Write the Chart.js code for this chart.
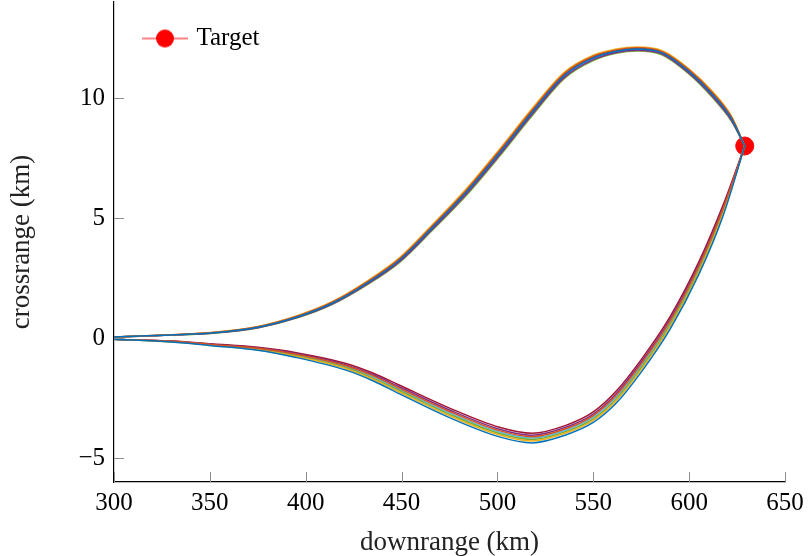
<!DOCTYPE html>
<html>
<head>
<meta charset="utf-8">
<script src="https://cdn.jsdelivr.net/npm/chart.js@4"></script>
<style>
  body { margin: 0; background: #fff; }
  #wrap { width: 809px; height: 556px; position: relative; }
</style>
</head>
<body>
<div id="wrap"><canvas id="traj"></canvas></div>
<script>
// downrange stations (km) for the two trajectory families
var xUpper = [300, 330, 352, 375, 397, 414, 432, 449, 466, 484, 501, 518, 535, 550, 562, 573, 586, 600, 612, 622, 629]
var xLower = [300, 330, 352, 375, 395, 421, 435, 449, 475, 501, 518, 536, 550, 562, 575, 590, 605, 618, 629]

// crossrange (km) per run, upper family
var run1Upper = [0.04, 0.13, 0.22, 0.45, 0.92, 1.46, 2.29, 3.25, 4.6, 6.1, 7.71, 9.4, 10.95, 11.67, 11.95, 12.04, 11.88, 11.1, 10.16, 9.15, 8.0]
var run2Upper = [0.04, 0.14, 0.23, 0.47, 0.95, 1.5, 2.34, 3.31, 4.67, 6.18, 7.8, 9.49, 11.03, 11.74, 12.0, 12.09, 11.93, 11.17, 10.24, 9.22, 8.0]
var run3Upper = [0.04, 0.14, 0.24, 0.48, 0.97, 1.52, 2.37, 3.35, 4.72, 6.24, 7.86, 9.55, 11.08, 11.78, 12.04, 12.12, 11.97, 11.21, 10.29, 9.26, 8.0]
var run4Upper = [0.04, 0.12, 0.21, 0.43, 0.89, 1.42, 2.24, 3.19, 4.53, 6.02, 7.62, 9.31, 10.87, 11.6, 11.9, 11.99, 11.83, 11.03, 10.08, 9.08, 8.0]
var run5Upper = [0.04, 0.12, 0.2, 0.42, 0.87, 1.4, 2.21, 3.15, 4.48, 5.96, 7.56, 9.25, 10.82, 11.56, 11.86, 11.96, 11.79, 10.99, 10.03, 9.04, 8.0]
var run6Upper = [0.04, 0.13, 0.21, 0.44, 0.9, 1.44, 2.27, 3.22, 4.56, 6.06, 7.66, 9.35, 10.91, 11.64, 11.92, 12.02, 11.85, 11.07, 10.12, 9.12, 8.0]
var run7Upper = [0.04, 0.13, 0.23, 0.46, 0.94, 1.48, 2.31, 3.28, 4.64, 6.14, 7.76, 9.45, 10.99, 11.7, 11.98, 12.06, 11.91, 11.13, 10.2, 9.18, 8.0]

// crossrange (km) per run, lower family
var run1Lower = [-0.05, -0.17, -0.33, -0.51, -0.81, -1.34, -1.78, -2.33, -3.32, -4.12, -4.37, -4.03, -3.52, -2.71, -1.42, 0.36, 2.64, 5.16, 8.0]
var run2Lower = [-0.05, -0.14, -0.28, -0.43, -0.68, -1.16, -1.57, -2.1, -3.06, -3.86, -4.11, -3.77, -3.23, -2.39, -1.08, 0.7, 2.98, 5.45, 8.0]
var run3Lower = [-0.05, -0.16, -0.31, -0.49, -0.77, -1.28, -1.72, -2.26, -3.24, -4.04, -4.29, -3.95, -3.43, -2.61, -1.32, 0.46, 2.74, 5.25, 8.0]
var run4Lower = [-0.05, -0.14, -0.27, -0.41, -0.65, -1.12, -1.52, -2.04, -3.0, -3.8, -4.05, -3.71, -3.17, -2.31, -1.0, 0.78, 3.06, 5.51, 8.0]
var run5Lower = [-0.05, -0.16, -0.3, -0.47, -0.74, -1.24, -1.67, -2.2, -3.18, -3.98, -4.23, -3.89, -3.37, -2.54, -1.24, 0.54, 2.82, 5.31, 8.0]
var run6Lower = [-0.05, -0.15, -0.29, -0.45, -0.71, -1.2, -1.62, -2.15, -3.12, -3.92, -4.17, -3.83, -3.3, -2.46, -1.16, 0.62, 2.9, 5.38, 8.0]
var run7Lower = [-0.05, -0.13, -0.25, -0.39, -0.61, -1.06, -1.46, -1.97, -2.92, -3.72, -3.97, -3.63, -3.08, -2.21, -0.9, 0.88, 3.16, 5.6, 8.0]

var targetX = [629]
var targetY = [8]

var xTicks = [300, 350, 400, 450, 500, 550, 600, 650]
var yTicks = [-5, 0, 5, 10]

var runColors = ['#0072BD', '#D95319', '#EDB120', '#7E2F8E', '#77AC30', '#4DBEEE', '#A2142F']
var upperRuns = [run1Upper, run2Upper, run3Upper, run4Upper, run5Upper, run6Upper, run7Upper]
var lowerRuns = [run1Lower, run2Lower, run3Lower, run4Lower, run5Lower, run6Lower, run7Lower]

var serif = '"Liberation Serif", "Times New Roman", serif'

function toPoints(xs, ys) {
    var pts = []
    for (var i = 0; i < xs.length; i++) pts.push({x: xs[i], y: ys[i]})
    return pts
}

var datasets = []
for (var r = 0; r < runColors.length; r++) {
    datasets.push({
        label: 'run ' + (r + 1) + ' upper',
        data: toPoints(xUpper, upperRuns[r]),
        borderColor: runColors[r],
        borderWidth: 1.5,
        pointRadius: 0,
        cubicInterpolationMode: 'monotone',
        fill: false
    })
    datasets.push({
        label: 'run ' + (r + 1) + ' lower',
        data: toPoints(xLower, lowerRuns[r]),
        borderColor: runColors[r],
        borderWidth: 1.5,
        pointRadius: 0,
        cubicInterpolationMode: 'monotone',
        fill: false
    })
}
datasets.push({
    label: 'Target',
    data: toPoints(targetX, targetY),
    showLine: false,
    borderColor: '#ff0000',
    backgroundColor: '#ff0000',
    pointRadius: 9,
    pointHoverRadius: 9
})

// legend glyph: short line with a dot on it (6px blank margin on the left)
var legendMark = document.createElement('canvas')
legendMark.width = 52
legendMark.height = 20
var lg = legendMark.getContext('2d')
lg.strokeStyle = '#ff5a5a'
lg.lineWidth = 1.5
lg.beginPath()
lg.moveTo(6, 10)
lg.lineTo(52, 10)
lg.stroke()
lg.fillStyle = '#ff0000'
lg.beginPath()
lg.arc(29, 10, 9, 0, Math.PI * 2)
lg.fill()

// tick marks drawn inward from the axis lines
var innerTicks = {
    id: 'innerTicks',
    afterDatasetsDraw: function (chart) {
        var ctx = chart.ctx
        var xs = chart.scales.x
        var ys = chart.scales.y
        var area = chart.chartArea
        ctx.save()
        ctx.strokeStyle = '#8c8c8c'
        ctx.lineWidth = 1
        ctx.beginPath()
        xTicks.forEach(function (v) {
            var px = Math.round(xs.getPixelForValue(v)) + 0.5
            ctx.moveTo(px, area.bottom)
            ctx.lineTo(px, area.bottom - 10)
        })
        yTicks.forEach(function (v) {
            var py = Math.round(ys.getPixelForValue(v)) + 0.5
            ctx.moveTo(area.left, py)
            ctx.lineTo(area.left + 10, py)
        })
        ctx.stroke()
        ctx.restore()
    }
}

new Chart(document.getElementById('traj'), {
    type: 'line',
    data: {datasets: datasets},
    plugins: [innerTicks],
    options: {
        responsive: true,
        maintainAspectRatio: false,
        animation: false,
        events: [],
        layout: {autoPadding: false, padding: {top: 2, right: 24, left: 0, bottom: 0}},
        scales: {
            x: {
                type: 'linear',
                min: 300,
                max: 650,
                afterFit: function (s) { s.height = 74; s.paddingLeft = 0; s.paddingRight = 0 },
                afterBuildTicks: function (s) { s.ticks = xTicks.map(function (v) { return {value: v} }) },
                grid: {display: true, drawOnChartArea: false, drawTicks: false},
                border: {display: true, color: '#000', width: 1.2},
                ticks: {color: '#000', padding: 6, font: {family: serif, size: 25}},
                title: {display: true, text: 'downrange (km)', color: '#222', font: {family: serif, size: 27, lineHeight: 1}, padding: {top: 0, bottom: 0}}
            },
            y: {
                type: 'linear',
                min: -6,
                max: 14,
                afterFit: function (s) { s.width = 114; s.paddingTop = 0; s.paddingBottom = 0 },
                afterBuildTicks: function (s) { s.ticks = yTicks.map(function (v) { return {value: v} }) },
                grid: {display: true, drawOnChartArea: false, drawTicks: false},
                border: {display: true, color: '#000', width: 1.2},
                ticks: {color: '#000', padding: 9, font: {family: serif, size: 25},
                    callback: function (v) { return v < 0 ? '\u2212' + Math.abs(v) : '' + v }},
                title: {display: true, text: 'crossrange (km)', color: '#222', font: {family: serif, size: 27, lineHeight: 1}, padding: {top: 8, bottom: 0}}
            }
        },
        plugins: {
            tooltip: {enabled: false},
            legend: {
                position: 'chartArea',
                align: 'start',
                labels: {
                    usePointStyle: true,
                    pointStyle: legendMark,
                    pointStyleWidth: 44,
                    color: '#000',
                    font: {family: serif, size: 25},
                    padding: 26,
                    filter: function (item) { return item.text === 'Target' },
                    generateLabels: function (chart) {
                        var items = Chart.defaults.plugins.legend.labels.generateLabels(chart)
                        items.forEach(function (it) { it.pointStyle = legendMark })
                        return items
                    }
                }
            }
        }
    }
})
</script>
</body>
</html>
